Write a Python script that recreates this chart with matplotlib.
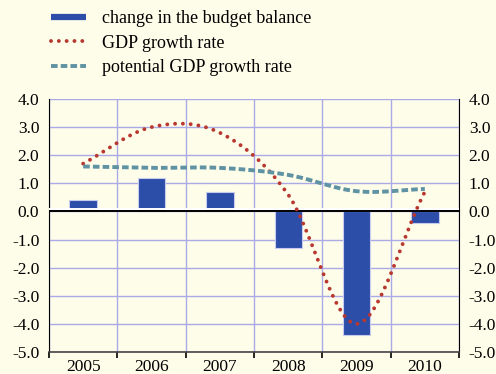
import numpy as np
import matplotlib
matplotlib.use("Agg")
import matplotlib.pyplot as plt
import matplotlib.transforms as mtransforms
from matplotlib.lines import Line2D

years = ["2005", "2006", "2007", "2008", "2009", "2010"]
budget_change = [0.4, 1.2, 0.7, -1.3, -4.4, -0.4]
gdp_growth = [1.7, 3.0, 2.8, 0.6, -4.0, 0.7]
potential_growth = [1.6, 1.55, 1.55, 1.3, 0.72, 0.8]
y_ticks = [4.0, 3.0, 2.0, 1.0, 0.0, -1.0, -2.0, -3.0, -4.0, -5.0]

BG = "#FEFDEA"
GRID = "#A9AAE6"
BAR = "#2C4EA9"
RED = "#B8372F"
TEAL = "#5F93A3"

plt.rcParams["font.family"] = ["Liberation Serif", "DejaVu Serif"]


def smooth(xs, ys, n=40):
    # catmull-rom, roughly what spreadsheet "smoothed lines" do
    xs = np.asarray(xs, float); ys = np.asarray(ys, float)
    px = np.concatenate([[2 * xs[0] - xs[1]], xs, [2 * xs[-1] - xs[-2]]])
    py = np.concatenate([[2 * ys[0] - ys[1]], ys, [2 * ys[-1] - ys[-2]]])
    out_x, out_y = [], []
    t = np.linspace(0, 1, n, endpoint=False)
    for i in range(1, len(px) - 2):
        for p, out in ((px, out_x), (py, out_y)):
            p0, p1, p2, p3 = p[i - 1], p[i], p[i + 1], p[i + 2]
            out.extend(0.5 * (2 * p1 + (-p0 + p2) * t + (2 * p0 - 5 * p1 + 4 * p2 - p3) * t ** 2
                              + (-p0 + 3 * p1 - 3 * p2 + p3) * t ** 3))
    out_x.append(xs[-1]); out_y.append(ys[-1])
    return np.array(out_x), np.array(out_y)


fig = plt.figure(figsize=(4.96, 3.74), dpi=100, facecolor=BG)
ax = fig.add_axes([49 / 496, 1 - 352 / 374, 410 / 496, 253 / 374])
ax.set_facecolor(BG)

x = np.arange(len(years))
ax.set_xlim(-0.5, len(years) - 0.5)
ax.set_ylim(-5.0, 4.0)

# grid
for v in y_ticks:
    ax.axhline(v, color=GRID, lw=1.0, zorder=1)
for b in np.arange(-0.5, len(years), 1.0):
    ax.axvline(b, color=GRID, lw=1.0, zorder=1)

ax.bar(x, budget_change, width=0.4, color=BAR, edgecolor="#C8CCEE", linewidth=0.8, zorder=3)

# zero line with a white strip just above it
ax.axhline(0, color="black", lw=1.4, zorder=4)
off = mtransforms.offset_copy(ax.get_yaxis_transform(), fig=fig, x=0, y=2.0, units="points")
ax.plot([0, 1], [0, 0], color="white", lw=1.4, transform=off, zorder=4)

gdp_style = dict(color=RED, lw=2.8, linestyle=(0, (0.01, 2.0)), dash_capstyle="round")
pot_style = dict(color=TEAL, lw=2.8, linestyle=(0, (1.7, 0.8)))

sx, sy = smooth(x, gdp_growth)
ax.plot(sx, sy, zorder=5, **gdp_style)
px_, py_ = smooth(x, potential_growth)
ax.plot(px_, py_, zorder=5, **pot_style)

ax.spines["top"].set_visible(False)
ax.spines["left"].set_color("black")
ax.spines["right"].set_color("black")
ax.spines["bottom"].set_color("#444444")
ax.spines["bottom"].set_linewidth(1.2)

ax.set_yticks(y_ticks)
ax.set_yticklabels([f"{v:.1f}" for v in y_ticks])
ax.tick_params(axis="y", length=0, pad=7, labelsize=12.5, labelleft=True, labelright=True)
ax.yaxis.set_ticks_position("both")

ax.set_xticks(x)
ax.set_xticklabels(years)
ax.tick_params(axis="x", which="major", length=0, pad=5, labelsize=12.5)
ax.set_xticks(np.arange(-0.5, len(years), 1.0), minor=True)
ax.tick_params(axis="x", which="minor", length=4, width=1.2, color="black", direction="out")

handles = [Line2D([], [], color=BAR, lw=4.5, solid_capstyle="butt"),
           Line2D([], [], **gdp_style),
           Line2D([], [], **pot_style)]
fig.legend(handles,
           ["change in the budget balance", "GDP growth rate", "potential GDP growth rate"],
           loc="upper left", bbox_to_anchor=(44 / 496, 1 - 3 / 374), frameon=False,
           fontsize=13, handlelength=1.9, handletextpad=0.9, labelspacing=0.42,
           borderaxespad=0)

fig.savefig("out.png", dpi=100, facecolor=BG)
